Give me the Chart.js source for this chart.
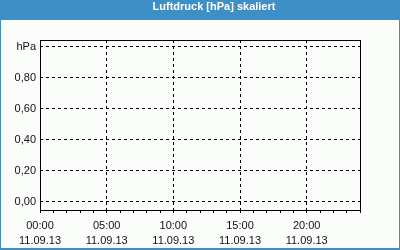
<!DOCTYPE html>
<html>
<head>
<meta charset="utf-8">
<script src="https://cdn.jsdelivr.net/npm/chart.js@4"></script>
<style>
  html, body { margin: 0; padding: 0; background: #fff; }
  #wrap { position: relative; width: 400px; height: 250px; }
  #title {
    position: absolute; left: 0; top: 0; width: 400px; height: 20px;
    box-sizing: border-box; padding-left: 28px;
    line-height: 20px; text-align: center;
    color: #fff; font: bold 11px "Liberation Sans", sans-serif;
  }
</style>
</head>
<body>
<div id="wrap">
  <canvas id="chart" width="400" height="250"></canvas>
  <div id="title">Luftdruck [hPa] skaliert</div>
</div>
<script>
// hours shown on the time axis (tick every hour, label every 5 h)
const hours = [0,1,2,3,4,5,6,7,8,9,10,11,12,13,14,15,16,17,18,19,20,21,22,23,24];
const majorHours = [0, 5, 10, 15, 20];
const timeLabels = ['00:00', '05:00', '10:00', '15:00', '20:00'];
const dateLabel = '11.09.13';
const yTicks = [0, 0.2, 0.4, 0.6, 0.8, 1.0];
const yTickLabels = ['0,00', '0,20', '0,40', '0,60', '0,80', 'hPa'];
// no pressure values recorded in this window
const pressure = [];

const BLUE = '#3d8fc6';

const frame = {
  id: 'frame',
  beforeDraw(chart) {
    const c = chart.ctx;
    c.save();
    c.fillStyle = BLUE;
    c.fillRect(0, 0, chart.width, chart.height);
    c.fillStyle = '#fbfdfb';
    c.fillRect(1, 20, chart.width - 2, chart.height - 22);
    c.restore();
  },
  afterDraw(chart) {
    const a = chart.chartArea;
    const c = chart.ctx;
    c.save();
    c.strokeStyle = '#000';
    c.lineWidth = 1;
    c.strokeRect(Math.round(a.left) + 0.5, Math.round(a.top) + 0.5,
      Math.round(a.right - a.left), Math.round(a.bottom - a.top));
    c.restore();
  }
};

new Chart(document.getElementById('chart'), {
  type: 'line',
  data: {
    datasets: [{
      label: 'Luftdruck',
      data: pressure,
      borderColor: '#000',
      pointRadius: 0
    }]
  },
  plugins: [frame],
  options: {
    responsive: false,
    animation: false,
    layout: { padding: { left: 0, right: 0, top: 40, bottom: 0 } },
    plugins: {
      legend: { display: false },
      tooltip: { enabled: false },
      title: { display: false }
    },
    scales: {
      x: {
        type: 'linear',
        min: 0,
        max: 24,
        afterBuildTicks: s => { s.ticks = hours.map(h => ({ value: h })); },
        afterFit: s => { s.height = 40; },
        ticks: {
          autoSkip: false,
          maxRotation: 0,
          padding: 5,
          color: '#111',
          font: { family: 'Liberation Sans', size: 11, lineHeight: 15 / 11 },
          callback: v => {
            const i = majorHours.indexOf(v);
            return i < 0 ? '' : [timeLabels[i], dateLabel];
          }
        },
        grid: {
          color: ctx => majorHours.includes(ctx.tick && ctx.tick.value) ? '#000' : 'rgba(0,0,0,0)',
          tickColor: '#000',
          tickLength: 3,
          lineWidth: 1
        },
        border: { display: false, dash: [3, 3] }
      },
      y: {
        min: -0.052,
        max: 1.045,
        afterBuildTicks: s => { s.ticks = yTicks.map(v => ({ value: v })); },
        afterFit: s => { s.width = 40; },
        ticks: {
          padding: 4,
          color: '#111',
          font: { family: 'Liberation Sans', size: 11 },
          callback: v => {
            const i = yTicks.findIndex(t => Math.abs(t - v) < 1e-6);
            return i < 0 ? '' : yTickLabels[i];
          }
        },
        grid: { color: '#000', drawTicks: false, lineWidth: 1 },
        border: { display: false, dash: [3, 3] }
      },
      y2: {
        position: 'right',
        display: true,
        afterFit: s => { s.width = 40; },
        ticks: { display: false },
        grid: { display: false, drawTicks: false },
        border: { display: false }
      }
    }
  }
});
</script>
</body>
</html>
